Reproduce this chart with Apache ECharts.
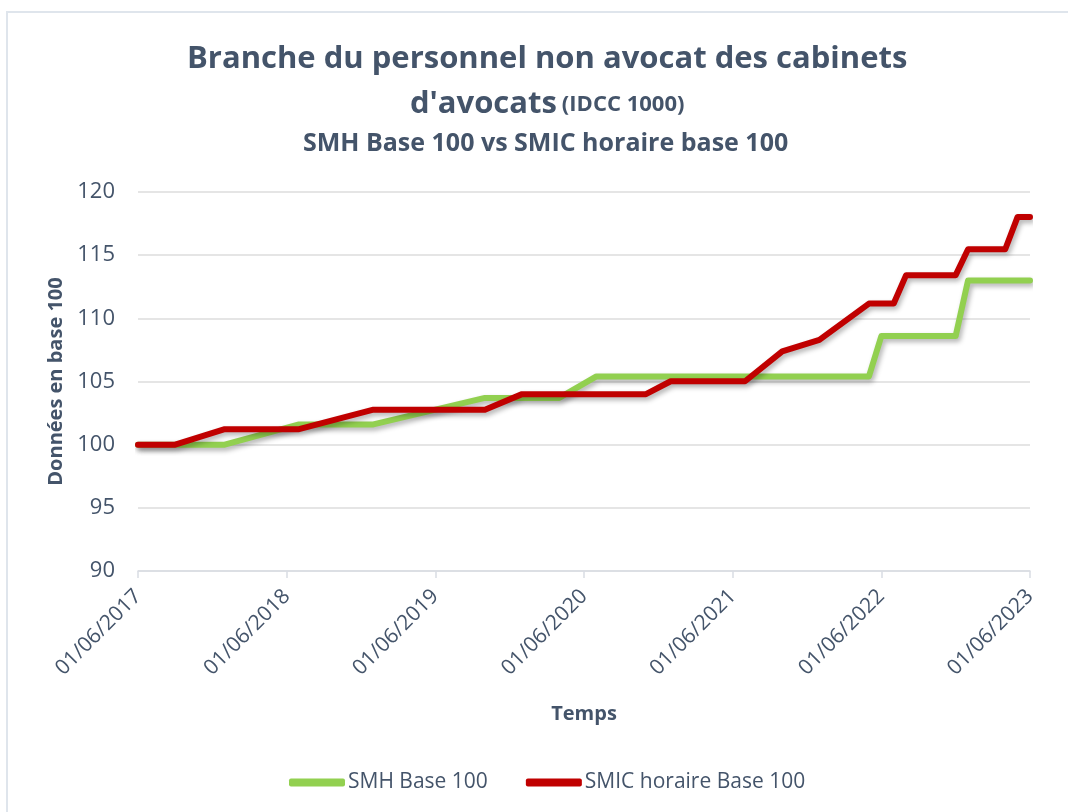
<!DOCTYPE html>
<html>
<head>
<meta charset="utf-8">
<script src="https://cdn.jsdelivr.net/npm/echarts@6/dist/echarts.min.js"></script>
<style>
html,body{margin:0;padding:0;background:#fff;}
#c{width:1068px;height:812px;}
</style>
</head>
<body>
<div id="c"></div>
<script>
// Data (dates of the curve's breakpoints, YYYY-MM)
const dates = ['2017-06','2017-09','2018-01','2018-07','2019-01','2019-10','2020-01','2020-04','2020-07','2020-11','2021-01','2021-07','2021-10','2022-01','2022-05','2022-06','2022-07','2022-08','2022-12','2023-01','2023-04','2023-05','2023-06'];
const smh  = [100,100,100,101.6,101.6,103.7,103.7,103.7,105.4,105.4,105.4,105.4,105.4,105.4,105.4,108.6,108.6,108.6,108.6,113.0,113.0,113.0,113.0];
const smic = [100,100,101.23,101.23,102.77,102.77,104.0,104.0,104.0,104.0,105.02,105.02,107.38,108.30,111.17,111.17,111.17,113.42,113.42,115.47,115.47,118.03,118.03];
const xTickLabels = ['01/06/2017','01/06/2018','01/06/2019','01/06/2020','01/06/2021','01/06/2022','01/06/2023'];
const seriesNames = ['SMH Base 100','SMIC horaire Base 100'];

function monthIndex(d){ const [y,m] = d.split('-').map(Number); return (y-2017)*12 + (m-6); }
const smhData = dates.map((d,i)=>[monthIndex(d), smh[i]]);
const smicData = dates.map((d,i)=>[monthIndex(d), smic[i]]);

const TXT = '#44546A';
const FONT = 'Open Sans';
const chart = echarts.init(document.getElementById('c'));
chart.setOption({
  animation:false,
  backgroundColor:'#fff',
  graphic:[{type:'rect', shape:{x:7,y:12,width:1100,height:860}, style:{fill:'none', stroke:'#dfe5ec', lineWidth:2}, silent:true}],
  title:[{
    text:'{a|Branche du personnel non avocat des cabinets}\n{a|d\'avocats} {b|(IDCC 1000)}',
    left:182, top:32, textAlign:'left',
    textStyle:{rich:{
      a:{fontFamily:FONT,fontWeight:'bold',fontSize:31,color:TXT,lineHeight:45,align:'center'},
      b:{fontFamily:FONT,fontWeight:'bold',fontSize:22,color:TXT,lineHeight:45}
    }}
  },{
    text:'SMH Base 100 vs SMIC horaire base 100',
    left:298, top:126,
    textStyle:{fontFamily:FONT,fontWeight:'bold',fontSize:25,color:TXT}
  }],
  legend:{
    bottom:14, left:284,
    itemWidth:56, itemHeight:8, itemGap:38, icon:'roundRect',
    textStyle:{fontFamily:FONT,fontSize:21,color:TXT,padding:[0,0,0,-2]},
    data:seriesNames
  },
  grid:{left:138,right:38,top:192,bottom:241},
  xAxis:{
    type:'value', min:0, max:72, interval:12,
    name:'Temps', nameLocation:'middle', nameGap:133,
    nameTextStyle:{fontFamily:FONT,fontWeight:'bold',fontSize:20,color:TXT},
    axisLine:{show:true,lineStyle:{color:'#d9dde3',width:1.5}},
    axisTick:{show:true,length:7,lineStyle:{color:'#d9dde3',width:1.5}},
    splitLine:{show:false},
    axisLabel:{rotate:45,margin:22,fontFamily:FONT,fontSize:21,color:TXT,
      formatter:v=>xTickLabels[Math.round(v/12)]}
  },
  yAxis:{
    type:'value', min:90, max:120, interval:5,
    name:'Données en base 100', nameLocation:'middle', nameGap:70, nameRotate:90,
    nameTextStyle:{fontFamily:FONT,fontWeight:'bold',fontSize:20,color:TXT},
    axisLine:{show:false}, axisTick:{show:false},
    splitLine:{lineStyle:{color:'#dcdcdc',width:1.5}},
    axisLabel:{margin:23,fontFamily:FONT,fontSize:22,color:TXT}
  },
  series:[{
    name:seriesNames[0], type:'line', data:smhData, symbol:'none',
    itemStyle:{color:'#92D050'},
    lineStyle:{width:6,color:'#92D050',cap:'round',join:'round',shadowColor:'rgba(0,0,0,0.3)',shadowBlur:5,shadowOffsetX:2,shadowOffsetY:3}
  },{
    name:seriesNames[1], type:'line', data:smicData, symbol:'none',
    itemStyle:{color:'#C00000'},
    lineStyle:{width:6,color:'#C00000',cap:'round',join:'round',shadowColor:'rgba(0,0,0,0.3)',shadowBlur:5,shadowOffsetX:2,shadowOffsetY:3}
  }]
});
</script>
</body>
</html>
